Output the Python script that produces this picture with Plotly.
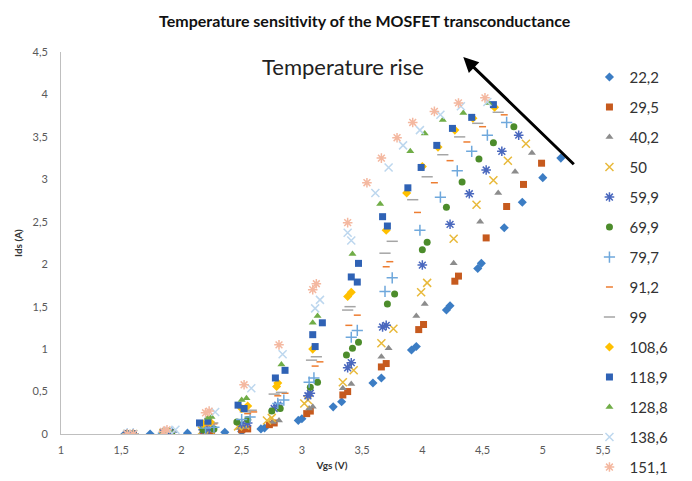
import plotly.graph_objects as go

# temperatures (degC) used as legend labels
temps = ["22,2", "29,5", "40,2", "50", "59,9", "69,9", "79,7",
         "91,2", "99", "108,6", "118,9", "128,8", "138,6", "151,1"]

# Vgs (V) / Ids (A), one pair of lists per temperature
vgs_22 = [1.53, 1.6, 1.74, 1.87, 2.05, 2.2, 2.36, 2.5, 2.66, 2.69, 2.97, 3.0, 3.26, 3.33,
          3.59, 3.66, 3.91, 3.95, 4.2, 4.23, 4.46, 4.49, 4.68, 4.83, 5.0, 5.15]
ids_22 = [0, 0, 0, 0, 0.01, 0.01, 0.02, 0.03, 0.06, 0.07, 0.16, 0.18, 0.32, 0.38,
          0.6, 0.66, 0.99, 1.03, 1.46, 1.51, 1.95, 2.01, 2.43, 2.73, 3.02, 3.25]

vgs_29 = [1.55, 1.6, 1.85, 1.9, 2.18, 2.25, 2.5, 2.55, 2.73, 2.77, 3.04, 3.07, 3.34, 3.38,
          3.66, 3.7, 3.97, 4.01, 4.27, 4.3, 4.53, 4.7, 4.84, 4.99]
ids_29 = [0, 0, 0, 0.01, 0.02, 0.03, 0.05, 0.06, 0.11, 0.13, 0.24, 0.27, 0.46, 0.5,
          0.79, 0.83, 1.23, 1.29, 1.8, 1.86, 2.31, 2.68, 2.94, 3.19]

vgs_40 = [1.55, 1.6, 1.87, 1.92, 2.2, 2.25, 2.48, 2.54, 2.76, 2.81, 3.06, 3.09, 3.34, 3.41,
          3.66, 3.72, 3.95, 4.02, 4.26, 4.48, 4.63, 4.77, 4.91]
ids_40 = [0, 0, 0.01, 0.01, 0.03, 0.04, 0.07, 0.08, 0.14, 0.16, 0.3, 0.32, 0.54, 0.59,
          0.91, 1.01, 1.39, 1.53, 2.01, 2.5, 2.84, 3.09, 3.31]

vgs_50 = [1.55, 1.6, 1.85, 1.9, 2.17, 2.24, 2.47, 2.53, 2.71, 2.75, 3.02, 3.05, 3.34, 3.43,
          3.66, 3.76, 3.99, 4.04, 4.26, 4.45, 4.59, 4.71, 4.86]
ids_50 = [0, 0, 0.01, 0.01, 0.04, 0.05, 0.09, 0.1, 0.16, 0.19, 0.36, 0.4, 0.61, 0.75,
          1.07, 1.24, 1.67, 1.78, 2.3, 2.7, 2.99, 3.22, 3.42]

vgs_60 = [1.55, 1.6, 1.85, 1.9, 2.18, 2.23, 2.5, 2.55, 2.77, 2.8, 3.05, 3.07, 3.38, 3.41,
          3.67, 3.7, 4.0, 4.23, 4.39, 4.53, 4.66, 4.8]
ids_60 = [0, 0, 0.01, 0.02, 0.05, 0.06, 0.12, 0.13, 0.3, 0.34, 0.45, 0.48, 0.78, 0.84,
          1.26, 1.28, 1.99, 2.47, 2.83, 3.11, 3.33, 3.52]

vgs_70 = [1.55, 1.6, 1.87, 1.92, 2.18, 2.27, 2.46, 2.55, 2.75, 2.82, 3.07, 3.13, 3.37, 3.42,
          3.47, 3.71, 3.77, 4.0, 4.04, 4.2, 4.33, 4.47, 4.59, 4.76]
ids_70 = [0, 0, 0.01, 0.02, 0.05, 0.06, 0.14, 0.17, 0.27, 0.3, 0.55, 0.61, 0.93, 1.01,
          1.08, 1.53, 1.65, 2.17, 2.26, 2.67, 2.97, 3.24, 3.43, 3.62]

vgs_80 = [1.55, 1.6, 1.85, 1.92, 2.2, 2.27, 2.5, 2.57, 2.8, 2.85, 3.06, 3.1, 3.41, 3.46,
          3.69, 3.75, 3.98, 4.15, 4.29, 4.41, 4.54, 4.7]
ids_80 = [0, 0, 0.01, 0.02, 0.07, 0.08, 0.17, 0.2, 0.36, 0.4, 0.61, 0.66, 1.14, 1.22,
          1.68, 1.84, 2.4, 2.79, 3.1, 3.33, 3.52, 3.67]

vgs_91 = [1.55, 1.6, 1.88, 1.93, 2.22, 2.27, 2.55, 2.6, 2.8, 2.86, 3.11, 3.15, 3.39, 3.46,
          3.7, 3.73, 3.96, 4.1, 4.23, 4.37, 4.5, 4.68]
ids_91 = [0, 0, 0.02, 0.03, 0.1, 0.12, 0.24, 0.26, 0.45, 0.48, 0.8, 0.85, 1.28, 1.4,
          1.97, 2.03, 2.61, 2.96, 3.22, 3.44, 3.62, 3.76]

vgs_99 = [1.55, 1.6, 1.87, 1.92, 2.2, 2.26, 2.53, 2.58, 2.77, 2.83, 3.08, 3.12, 3.38, 3.4,
          3.69, 3.75, 3.92, 4.04, 4.17, 4.31, 4.46, 4.63]
ids_99 = [0, 0, 0.02, 0.03, 0.11, 0.13, 0.26, 0.28, 0.47, 0.49, 0.87, 0.91, 1.46, 1.5,
          2.13, 2.27, 2.76, 3.03, 3.29, 3.5, 3.66, 3.79]

vgs_109 = [1.55, 1.6, 1.85, 1.9, 2.18, 2.24, 2.5, 2.55, 2.79, 2.8, 3.09, 3.38, 3.41,
           3.7, 3.87, 4.0, 4.13, 4.27, 4.42, 4.6]
ids_109 = [0, 0, 0.02, 0.03, 0.12, 0.14, 0.3, 0.33, 0.56, 0.6, 1.0, 1.62, 1.67,
           2.4, 2.84, 3.15, 3.38, 3.58, 3.72, 3.85]

vgs_119 = [1.55, 1.6, 1.85, 1.9, 2.15, 2.22, 2.47, 2.52, 2.78, 2.86, 3.09, 3.11, 3.17,
           3.41, 3.46, 3.47, 3.67, 3.71, 3.88, 3.99, 4.12, 4.25, 4.41, 4.59]
ids_119 = [0, 0, 0.02, 0.03, 0.13, 0.15, 0.34, 0.3, 0.66, 0.75, 1.17, 1.03, 1.31,
           1.85, 1.79, 2.01, 2.56, 2.45, 2.9, 3.14, 3.4, 3.6, 3.73, 3.88]

vgs_129 = [1.55, 1.6, 1.85, 1.9, 2.22, 2.25, 2.5, 2.54, 2.83, 3.09, 3.13, 3.42, 3.65,
           3.9, 4.02, 4.17, 4.34, 4.55]
ids_129 = [0, 0, 0.02, 0.04, 0.19, 0.2, 0.4, 0.42, 0.82, 1.31, 1.39, 2.12, 2.71,
           3.33, 3.54, 3.7, 3.78, 3.9]

vgs_139 = [1.55, 1.6, 1.9, 1.95, 2.28, 2.58, 2.84, 3.11, 3.15, 3.38, 3.41, 3.61, 3.72,
           3.84, 3.98, 4.15, 4.32, 4.54]
ids_139 = [0, 0, 0.04, 0.05, 0.26, 0.54, 0.94, 1.48, 1.58, 2.37, 2.28, 2.84, 3.14,
           3.4, 3.58, 3.76, 3.86, 3.91]

vgs_151 = [1.55, 1.6, 1.85, 1.88, 2.2, 2.23, 2.52, 2.81, 3.09, 3.12, 3.38, 3.54, 3.66,
           3.79, 3.92, 4.1, 4.3, 4.52]
ids_151 = [0, 0, 0.03, 0.05, 0.25, 0.27, 0.58, 1.05, 1.7, 1.77, 2.49, 2.96, 3.25,
           3.49, 3.67, 3.8, 3.9, 3.96]

vgs = [vgs_22, vgs_29, vgs_40, vgs_50, vgs_60, vgs_70, vgs_80,
       vgs_91, vgs_99, vgs_109, vgs_119, vgs_129, vgs_139, vgs_151]
ids = [ids_22, ids_29, ids_40, ids_50, ids_60, ids_70, ids_80,
       ids_91, ids_99, ids_109, ids_119, ids_129, ids_139, ids_151]

colors = ["#3C7DC4", "#C65A1E", "#8C8C8C", "#E8B93A", "#4A68BE", "#4C8C2B", "#6FA8DC",
          "#ED7D31", "#A5A5A5", "#FFC000", "#2F62B5", "#70AD47", "#BDD7EE", "#F4B8A0"]
symbols = ["diamond", "square", "triangle-up", "x-thin-open", "asterisk-open", "circle",
           "cross-thin-open", "line-ew-open", "line-ew-open", "diamond", "square",
           "triangle-up", "x-thin-open", "asterisk-open"]
sizes = [7, 7, 7, 8, 8, 7, 8, 5, 8, 7, 7, 7, 8, 8]

fig = go.Figure()
for i in range(len(temps)):
    open_sym = symbols[i].endswith("open")
    fig.add_trace(go.Scatter(
        x=vgs[i], y=ids[i], mode="markers", name=temps[i],
        legendgroup=temps[i],
        marker=dict(symbol=symbols[i], size=sizes[i], color=colors[i],
                    line=dict(color=colors[i], width=1.5 if open_sym else 0))))

fig.add_annotation(x=4.34, y=4.44, ax=5.27, ay=3.16, xref="x", yref="y",
                   axref="x", ayref="y", text="", showarrow=True,
                   arrowhead=2, arrowsize=1, arrowwidth=3, arrowcolor="black")
fig.add_annotation(x=3.34, y=4.33, xref="x", yref="y", text="Temperature rise",
                   showarrow=False, font=dict(size=22, color="#222222"))

fig.update_layout(
    width=692, height=481,
    margin=dict(l=61, r=89, t=52, b=47, autoexpand=False),
    paper_bgcolor="white", plot_bgcolor="white",
    separators=", ",
    font=dict(family="Lato, Open Sans, sans-serif", color="#595959"),
    title=dict(text="<b>Temperature sensitivity of the MOSFET transconductance</b>",
               x=0.527, xanchor="center", y=0.955, yanchor="middle",
               font=dict(size=16, color="#111111")),
    xaxis=dict(range=[1, 5.5], dtick=0.5, tick0=1, showgrid=False, zeroline=False,
               showline=True, linecolor="#BFBFBF", linewidth=1, ticks="",
               tickfont=dict(size=11), tickformat=".1~f", ticklabelstandoff=6,
               title=dict(text="<b>Vgs (V)</b>", font=dict(size=10, color="#333333"),
                          standoff=6)),
    yaxis=dict(range=[0, 4.5], dtick=0.5, tick0=0, showgrid=False, zeroline=False,
               showline=True, linecolor="#BFBFBF", linewidth=1, ticks="",
               tickfont=dict(size=11), tickformat=".1~f", ticklabelstandoff=10,
               title=dict(text="<b>Ids (A)</b>", font=dict(size=10, color="#333333"),
                          standoff=8)),
    legend=dict(x=0.975, xanchor="left", y=0.977, yanchor="top",
                font=dict(size=15, color="#333333"), tracegroupgap=7.5,
                maxheight=700, bgcolor="rgba(0,0,0,0)"),
    showlegend=True,
)

fig.write_html("out.html", config={"displayModeBar": False},
               post_script="document.body.style.margin='0';")
